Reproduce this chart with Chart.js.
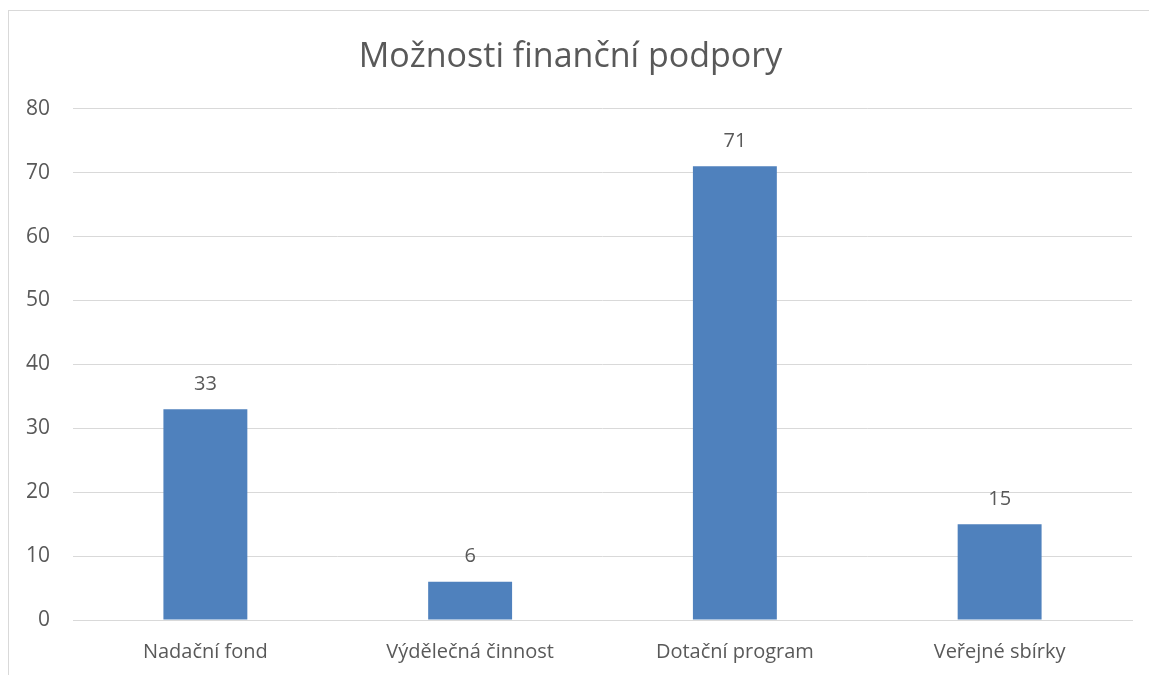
<!DOCTYPE html>
<html>
<head>
<meta charset="utf-8">
<script src="https://cdn.jsdelivr.net/npm/chart.js@4"></script>
<style>
  html, body { margin: 0; padding: 0; background: #fff; overflow: hidden; }
  #box {
    position: absolute; left: 8px; top: 10px;
    width: 1160px; height: 680px;
    border: 1px solid #d9d9d9; background: #fff;
  }
  #wrap { position: absolute; left: 0; top: 0; width: 1140px; height: 664px; }
</style>
</head>
<body>
<div id="box"><div id="wrap"><canvas id="chart"></canvas></div></div>
<script>
// data
const categories = ['Nadační fond', 'Výdělečná činnost', 'Dotační program', 'Veřejné sbírky'];
const values = [33, 6, 71, 15];
const chartTitle = 'Možnosti finanční podpory';

const textColor = '#595959';
const gridColor = '#d9d9d9';
const barColor = '#4f81bd';
const fontFamily = "'Open Sans', 'Noto Sans', sans-serif";

// hodnoty nad sloupci
const valueLabels = {
    id: 'valueLabels',
    afterDatasetsDraw(chart) {
        const ctx = chart.ctx;
        const meta = chart.getDatasetMeta(0);
        ctx.save();
        ctx.fillStyle = textColor;
        ctx.font = '20px ' + fontFamily;
        ctx.textAlign = 'center';
        ctx.textBaseline = 'middle';
        meta.data.forEach((bar, i) => {
            ctx.fillText(String(values[i]), bar.x, bar.y - 25);
        });
        ctx.restore();
    }
};

new Chart(document.getElementById('chart'), {
    type: 'bar',
    data: {
        labels: categories,
        datasets: [{
            data: values,
            backgroundColor: barColor,
            borderWidth: 0,
            categoryPercentage: 1,
            barPercentage: 0.317
        }]
    },
    options: {
        responsive: true,
        maintainAspectRatio: false,
        animation: false,
        layout: { padding: { left: 0, right: 17, top: 0, bottom: 0 } },
        plugins: {
            legend: { display: false },
            tooltip: { enabled: false },
            title: {
                display: true,
                text: chartTitle,
                color: textColor,
                font: { family: fontFamily, size: 34, weight: 'normal' },
                padding: { top: 26, bottom: 31 }
            }
        },
        scales: {
            x: {
                grid: { display: false, drawTicks: false },
                border: { display: true, color: gridColor, width: 1 },
                ticks: {
                    color: textColor,
                    font: { family: fontFamily, size: 20 },
                    padding: 20,
                    maxRotation: 0
                },
                afterFit(scale) { scale.height = 55; }
            },
            y: {
                min: 0,
                max: 80,
                grid: { color: gridColor, drawTicks: false },
                border: { display: false },
                ticks: {
                    stepSize: 10,
                    color: textColor,
                    font: { family: fontFamily, size: 21 },
                    padding: 23
                },
                afterFit(scale) { scale.width = 64; }
            }
        }
    },
    plugins: [valueLabels]
});
</script>
</body>
</html>
